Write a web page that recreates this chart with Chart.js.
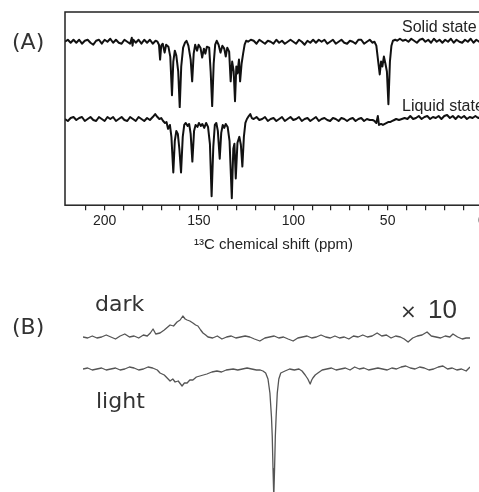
<!DOCTYPE html>
<html>
<head>
<meta charset="utf-8">
<script src="https://cdn.jsdelivr.net/npm/chart.js@4/dist/chart.umd.min.js"></script>
<style>
  html, body { margin: 0; padding: 0; background: #fff; }
  #page { position: relative; width: 479px; height: 492px; overflow: hidden; }
  canvas { position: absolute; left: 0; }
  #chartA { top: 0; }
  #chartB { top: 262px; }
  .lbl { position: absolute; line-height: 1; white-space: nowrap; }
  .panel { font-family: "DejaVu Sans", sans-serif; font-size: 22px; color: #333; }
  .state { font-family: "Liberation Sans", Arial, sans-serif; font-size: 16px; color: #222; }
</style>
</head>
<body>
<div id="page">
  <canvas id="chartA" width="520" height="260"></canvas>
  <canvas id="chartB" width="479" height="230"></canvas>
  <div class="lbl panel" style="left:12px; top:31px;">(A)</div>
  <div class="lbl panel" style="left:12px; top:316px;">(B)</div>
  <div class="lbl state" style="left:402px; top:19px;">Solid state</div>
  <div class="lbl state" style="left:402px; top:98px;">Liquid state</div>
  <div class="lbl panel" style="left:95px; top:293px;">dark</div>
  <div class="lbl panel" style="left:96px; top:390px;">light</div>
  <div class="lbl panel" style="left:400px; top:301px; font-size:20px;">×</div>
  <div class="lbl panel" style="left:428px; top:296px; font-family:'Liberation Sans', Arial, sans-serif; font-size:26px;">10</div>
</div>
<script>
// ============================
// Data
// ============================
const shiftTicks = [200, 150, 100, 50, 0];

// (A) solid state 13C spectrum: shift (ppm) / intensity (peaks point down)
const solidShift = [
  221, 219.5, 218, 216.5, 215, 213.5, 212, 210.5, 209, 207.5, 206, 204.5, 203, 201.5, 200, 198.5,
  197, 195.5, 194, 192.5, 191, 189.5, 188, 186.5, 185.6, 185.2, 184.8, 183.5, 182, 180.5, 179, 177.5,
  176, 174.5, 173, 172,
  171.2, 170.6, 170.0, 169.2, 168.2, 167.4, 166.2, 165.2, 164.3, 163.6, 162.8, 162.0, 161.0, 160.2,
  159.4, 158.4, 157.4, 156.6, 155.6, 154.4, 153.6, 152.8, 152.0, 151.0, 150.2, 149.2, 148.3, 147.4,
  146.6, 145.8, 144.6, 143.8, 143.0, 142.2, 141.4, 140.6, 139.6, 138.6, 137.6, 136.6, 135.8, 135.0,
  134.0, 133.2, 132.4, 131.6, 130.9, 130.2, 129.6, 128.8, 128.2, 127.4, 126.6, 125.8, 125.0,
  124, 122.5, 121, 119.5, 118, 116.5, 115, 113.5, 112, 110.5, 109, 107.5, 106, 104.5, 103, 101.5,
  100, 98.5, 97, 95.5, 94, 92.5, 91, 89.5, 88, 86.5, 85, 83.5, 82, 80.5, 79, 77.5, 76, 74.5, 73,
  71.5, 70, 68.5, 67, 65.5, 64, 62.5, 61, 59.5, 58, 57,
  56, 55, 54.2, 53.5, 52.8, 52, 51.2, 50.4, 49.6, 48.8, 48.0, 47.2, 46,
  45, 43.5, 42, 40.5, 39, 37.5, 36, 34.5, 33, 31.5, 30, 28.5, 27, 25.5, 24, 22.5, 21, 19.5, 18,
  16.5, 15, 13.5, 12, 10.5, 9, 7.5, 6, 4.5, 3, 1.5, 0
];
const solidIntensity = [
  0, 2, -1, 2, -1, 2, -2, 1, 2, -1, -3, 1, 2, -2, 2, 0,
  3, -1, 2, -1, -2, 2, 0, -2, 4, -4, 2, -1, 2, -2, 2, -1,
  2, -2, 1, 0,
  -3, -18, -4, -2, -11, -3, -5, -15, -54, -20, -9, -14, -30, -66,
  -25, -6, -1, 1, -4, -18, -40, -12, -3, -9, -3, -6, -16, -7,
  -12, -5, -6, -30, -65, -22, -3, 1, -3, -11, -4, -7, -15, -6,
  -10, -40, -20, -30, -60, -25, -32, -18, -40, -22, -12, -3, 1,
  0, 2, 1, -2, 2, 0, -2, 1, 0, -2, 2, -1, 1, -2, 0, 2,
  0, -2, 2, 0, -3, 1, -1, 2, -1, 2, 0, 2, -2, 0, 2, -2, 0, 2, -1,
  -2, 1, 0, -2, 2, 2, -2, 0, 2, -1, 0,
  -4, -20, -33, -20, -25, -15, -22, -30, -63, -20, -4, 1, 2,
  1, 3, 1, 2, 0, 3, 1, -1, 2, 3, 0, 2, -1, 3, 0, 2, -1, 2, 0,
  3, -1, 2, 0, -1, 2, 0, 3, -1, 2, 0, 1
];

// (A) liquid state 13C spectrum
const liquidShift = [
  221, 219.5, 218, 216.5, 215, 213.5, 212, 210.5, 209, 207.5, 206, 204.5, 203, 201.5, 200, 198.5,
  197, 195.5, 194, 192.5, 191, 189.5, 188, 186.5, 185, 183.5, 182, 180.5, 179, 177.5, 176, 174.5,
  173.2, 172, 171, 170,
  169, 168, 167.2, 166.4, 165.4, 164.6, 163.6, 162.8, 162.0, 161.2, 160.4, 159.5, 158.6, 157.8,
  157.0, 156.0, 155.2, 154.4, 153.5, 152.6, 151.8, 150.8, 150.0, 149.0, 148.2, 147.2, 146.2, 145.2,
  144.2, 143.3, 142.4, 141.6, 140.8, 140.0, 139.0, 138.2, 137.4, 136.6, 135.8, 134.8, 133.8, 132.6,
  131.8, 131.2, 130.5, 129.6, 128.6, 127.8, 127.0, 126.2, 125.4, 124.6, 123.6, 122.8, 122,
  121, 119.5, 118, 116.5, 115, 113.5, 112, 110.5, 109, 107.5, 106, 104.5, 103, 101.5, 100, 98.5,
  97, 95.5, 94, 92.5, 91, 89.5, 88, 86.5, 85, 83.5, 82, 80.5, 79, 77.5, 76, 74.5, 73, 71.5, 70,
  68.5, 67, 65.5, 64, 62.5, 61, 59.5, 58,
  57, 56, 55.2, 54.6, 53.5, 52.5, 51.5, 50.5, 49.5, 48.5, 47.5, 46.5, 45.5, 44, 42.5,
  41, 39.5, 38, 36.5, 35, 33.5, 32, 30.5, 29, 27.5, 26, 24.5, 23, 21.5, 20, 18.5, 17, 15.5, 14,
  12.5, 11, 9.5, 8, 6.5, 5, 3.5, 2, 0.5, 0
];
const liquidIntensity = [
  0, -2, 1, 2, -1, 1, 2, -2, 0, 2, -1, -2, 2, 0, -2, 2,
  0, 2, -2, 0, 2, -1, -2, 2, 0, -2, 2, 0, -2, 1, -1, 2,
  5, 2, 0, 1,
  -2, -4, -3, -10, -6, -18, -54, -22, -12, -15, -30, -54, -18, -6,
  -4, -7, -5, -15, -43, -12, -6, -8, -4, -7, -5, -9, -4, -8,
  -25, -78, -28, -6, -4, -12, -40, -14, -6, -9, -5, -8, -22, -80,
  -30, -25, -60, -24, -18, -26, -48, -18, -4, 0, 3, 5, 1,
  0, 2, -1, 0, 2, -2, 0, 1, -2, 0, 2, -2, 0, 2, -1, 0,
  2, -2, 0, 1, -2, 0, 2, -2, 0, 1, -1, -2, 1, 0, -2, 1, 0, -2, 0,
  1, -2, 0, 1, -2, 0, -1, -1,
  -2, -4, 3, -6, -5, -6, -5, -4, -3, -3, -2, -1, 0, -1, 0,
  1, 0, 3, 0, 1, 3, 0, 2, 3, 0, 2, 1, 3, 0, 3, 4, 1, 3, 0,
  3, 1, 3, 0, 2, 1, 3, 1, 2, 1
];

// (B) dark / light traces: relative position (0..100) / intensity
const darkPos = [
  0, 1.2, 2.4, 3.6, 4.8, 6, 7.2, 8.4, 9.6, 10.8, 12, 13.2, 14.4, 15.6, 16.6, 17.4, 18.1, 18.8,
  19.9, 21, 22.5, 23.4, 24.3, 25.1, 25.8, 26.4, 26.9, 27.6, 28.4, 29.1, 29.7, 30.4, 31.0, 31.7,
  32.3, 33.5, 34.7, 35.9, 37.1, 38.3, 39.5, 40.7, 41.9, 43.1, 44.3, 45.7, 47, 48.2, 49.4, 50.6,
  51.8, 53, 54.3, 55.5, 56.7, 57.9, 59.1, 60.3, 61.5, 62.7, 63.9, 65.1, 66.3, 67.5, 68.7, 69.9,
  71.1, 72.3, 73.5, 74.7, 76, 77.2, 78.4, 79.6, 80.8, 82, 83, 84, 85.2, 86.4, 87.6, 88.9, 90,
  91.2, 92.4, 93.6, 94.8, 95.6, 96.8, 98, 99, 100
];
const darkIntensity = [
  0, -1, 1, -1, 0, 2, 0, -2, 1, 3, 0, 1, -1, 2, 1, 4, 8, 3,
  4, 7, 12, 11, 15, 17, 21, 18, 17, 16, 14, 12, 11, 7, 4, 2,
  0, -1, 1, -2, 0, 1, -1, 0, 1, 0, -2, -4, -1, 0, 1, -1,
  0, -2, -4, -1, 0, 1, -1, 0, 2, 0, -1, 1, -1, 0, -2, 1,
  0, 2, 0, 1, 4, 1, 2, -1, 1, 0, -2, -5, -1, 1, 2, 5, 1,
  0, -1, 1, 0, 3, 0, -2, -1, -1
];
const lightPos = [
  0, 1.2, 2.4, 3.6, 4.8, 6, 7.2, 8.4, 9.6, 10.8, 12, 13.2, 14.4, 15.6, 16.8, 18, 19.2, 19.9,
  21, 22.5, 23.2, 23.8, 24.6, 25.6, 26.2, 26.9, 27.6, 28.4, 29.3, 30.2, 31.1, 32.0, 33.3, 34.6,
  35.8, 37, 38.8, 40, 41.2, 42.4, 43.6, 44.8, 45.8, 46.5, 47.2, 47.8, 48.3, 48.7, 48.9, 49.1,
  49.3, 49.5, 49.7, 49.9, 50.2, 50.6, 51.1, 52.2, 53.4, 54.6, 55.8, 56.6, 57.4, 58.1, 58.7, 59.1,
  59.4, 60, 60.7, 61.8, 63, 64.2, 65.4, 66.6, 67.8, 69, 70.2, 71.4, 72.6, 73.8, 75, 76.2, 77.4,
  78.6, 79.8, 81, 82.2, 83.4, 84.6, 85.8, 87, 88.2, 89.4, 90.6, 91.8, 93, 94.2, 95.4, 96.6,
  97.8, 99, 100
];
const lightIntensity = [
  0, 1, -1, 0, 1, -1, 0, 1, -1, 0, 2, 1, -1, 0, 2, 1, -1, -4,
  -6, -12, -10, -13, -12, -17, -14, -14, -11, -11, -8, -7, -6, -5, -3, -2,
  -3, -1, 0, -1, 0, 1, 0, -1, -1, -2, -4, -10, -24, -48, -67, -100,
  -128, -100, -67, -48, -24, -10, -4, -2, 0, -1, 0, -2, -6, -10, -15, -11,
  -9, -6, -4, -1, 0, 1, -1, 0, 1, -1, 2, 0, 1, -1, 0, 1, 0,
  -1, 1, 0, 2, 3, 1, 0, 2, 1, -1, 0, 2, 3, 0, 1, -1,
  0, -2, 2
];

// ============================
// Helpers
// ============================
const SOLID_OFFSET = 165;
const LIQUID_OFFSET = 87;
const DARK_OFFSET = 155;
const LIGHT_OFFSET = 123;

function toPoints(xs, ys, offset) {
    return xs.map((x, i) => ({ x: x, y: ys[i] + offset }));
}

const framePlugin = {
    id: "frame",
    afterDraw(chart) {
        const a = chart.chartArea;
        const ctx = chart.ctx;
        ctx.save();
        ctx.strokeStyle = "#222";
        ctx.lineWidth = 1.5;
        ctx.strokeRect(a.left, a.top, a.right - a.left, a.bottom - a.top);
        ctx.restore();
    }
};

const lineStyle = { pointRadius: 0, tension: 0, fill: false, borderJoinStyle: "round" };

// ============================
// (A) 13C spectra
// ============================
new Chart(document.getElementById("chartA"), {
    type: "line",
    data: {
        datasets: [
            { label: "Solid state", data: toPoints(solidShift, solidIntensity, SOLID_OFFSET),
              borderColor: "#111", borderWidth: 2, ...lineStyle },
            { label: "Liquid state", data: toPoints(liquidShift, liquidIntensity, LIQUID_OFFSET),
              borderColor: "#111", borderWidth: 2, ...lineStyle }
        ]
    },
    options: {
        responsive: false,
        animation: false,
        layout: { padding: { left: 65, right: 38, top: 12, bottom: 2 } },
        plugins: { legend: { display: false }, tooltip: { enabled: false } },
        scales: {
            x: {
                type: "linear",
                reverse: true,
                min: 0,
                max: 221,
                afterBuildTicks: (s) => { s.ticks = s.ticks.filter(t => t.value % 10 === 0); },
                ticks: {
                    stepSize: 10,
                    autoSkip: false,
                    maxRotation: 0,
                    padding: 3,
                    color: "#222",
                    font: { family: "'Liberation Sans', Arial, sans-serif", size: 14 },
                    callback: (v) => shiftTicks.includes(v) ? String(v) : ""
                },
                grid: { drawOnChartArea: false, drawTicks: true, tickLength: 5, color: "#222", lineWidth: 1.2 },
                border: { display: false },
                title: {
                    display: true,
                    text: "¹³C chemical shift (ppm)",
                    color: "#222",
                    font: { family: "'Liberation Sans', Arial, sans-serif", size: 15 },
                    padding: { top: 3, bottom: 4 }
                }
            },
            y: { display: false, min: 0, max: 195 }
        }
    },
    plugins: [framePlugin]
});

// ============================
// (B) dark / light traces
// ============================
new Chart(document.getElementById("chartB"), {
    type: "line",
    data: {
        datasets: [
            { label: "dark", data: toPoints(darkPos, darkIntensity, DARK_OFFSET),
              borderColor: "#555", borderWidth: 1.3, ...lineStyle },
            { label: "light", data: toPoints(lightPos, lightIntensity, LIGHT_OFFSET),
              borderColor: "#555", borderWidth: 1.3, ...lineStyle }
        ]
    },
    options: {
        responsive: false,
        animation: false,
        layout: { padding: { left: 83, right: 9, top: 0, bottom: 0 } },
        plugins: { legend: { display: false }, tooltip: { enabled: false } },
        scales: {
            x: { type: "linear", display: false, min: 0, max: 100 },
            y: { display: false, min: 0, max: 230 }
        }
    }
});
</script>
</body>
</html>
